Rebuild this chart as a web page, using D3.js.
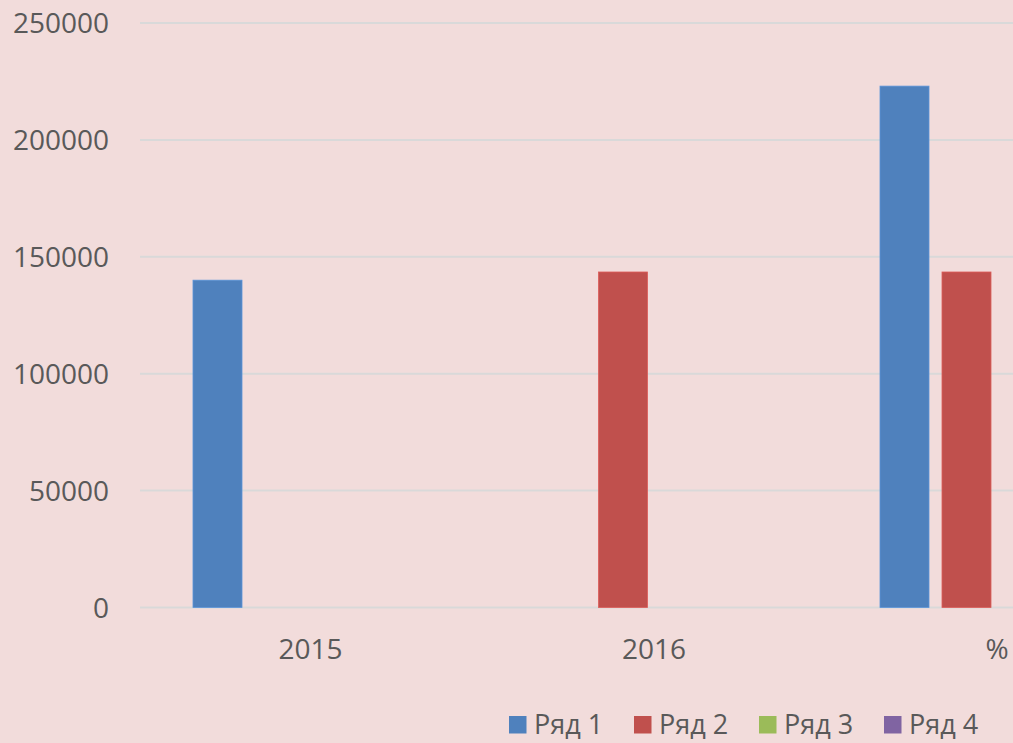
<!DOCTYPE html>
<html>
<head>
<meta charset="utf-8">
<script src="https://cdn.jsdelivr.net/npm/d3@7"></script>
<style>
  body { margin: 0; background: #f2dcdb; }
  svg { display: block; }
  text { font-family: "Open Sans", sans-serif; fill: #595959; }
</style>
</head>
<body>
<svg id="chart"></svg>
<script>
var WIDTH = 1013;
var HEIGHT = 743;

var categories = ['2015', '2016', '%'];
var seriesNames = ['Ряд 1', 'Ряд 2', 'Ряд 3', 'Ряд 4'];
var seriesColors = ['#4f81bd', '#c0504d', '#9bbb59', '#8064a2'];
var row1 = [140000, 0, 223000];
var row2 = [0, 143500, 143500];
var row3 = [0, 0, 0];
var row4 = [0, 0, 0];
var yTicks = [0, 50000, 100000, 150000, 200000, 250000];

var seriesValues = [row1, row2, row3, row4];

var svg = d3.select('#chart')
  .attr('width', WIDTH)
  .attr('height', HEIGHT);

svg.append('rect')
  .attr('width', WIDTH)
  .attr('height', HEIGHT)
  .attr('fill', '#f2dcdb');

// plot runs past the right edge, as in the reference
var x0 = d3.scaleBand().domain(categories).range([138.75, 1169.25]);
var x1 = d3.scaleBand().domain(seriesNames).range([-117.5, 117.5]).paddingInner(13 / 62);
var y = d3.scaleLinear().domain([0, 250000]).range([607.5, 23]);

// gridlines
svg.append('g')
  .selectAll('line')
  .data(yTicks)
  .enter()
  .append('line')
  .attr('x1', 140)
  .attr('x2', 1169.25)
  .attr('y1', d => y(d))
  .attr('y2', d => y(d))
  .attr('stroke', '#d9d9d9')
  .attr('stroke-width', 2);

// y labels
svg.append('g')
  .selectAll('text')
  .data(yTicks)
  .enter()
  .append('text')
  .attr('x', 109)
  .attr('y', d => y(d))
  .attr('dy', '0.36em')
  .attr('text-anchor', 'end')
  .style('font-size', '28px')
  .text(d => d);

// bars
var groups = svg.append('g')
  .selectAll('g')
  .data(categories)
  .enter()
  .append('g')
  .attr('transform', d => 'translate(' + (x0(d) + x0.bandwidth() / 2) + ',0)');

groups.selectAll('rect')
  .data((c, i) => seriesNames.map((s, j) => ({ series: s, value: seriesValues[j][i], color: seriesColors[j] })))
  .enter()
  .filter(d => d.value > 0)
  .append('rect')
  .attr('x', d => x1(d.series))
  .attr('width', x1.bandwidth())
  .attr('y', d => y(d.value))
  .attr('height', d => y(0) - y(d.value))
  .attr('fill', d => d.color)
  .attr('stroke', d => d3.color(d.color).brighter(0.4))
  .attr('stroke-width', 0.8);

// x labels
svg.append('g')
  .selectAll('text')
  .data(categories)
  .enter()
  .append('text')
  .attr('x', d => Math.min(x0(d) + x0.bandwidth() / 2, 997))
  .attr('y', 659)
  .attr('text-anchor', 'middle')
  .style('font-size', '28px')
  .text(d => d);

// legend
var legend = svg.append('g')
  .selectAll('g')
  .data(seriesNames)
  .enter()
  .append('g')
  .attr('transform', (d, i) => 'translate(' + (509 + i * 125) + ',716)');

legend.append('rect')
  .attr('width', 17.5)
  .attr('height', 17.5)
  .attr('fill', (d, i) => seriesColors[i]);

legend.append('text')
  .attr('x', 25)
  .attr('y', 18)
  .style('font-size', '27px')
  .text(d => d);
</script>
</body>
</html>
